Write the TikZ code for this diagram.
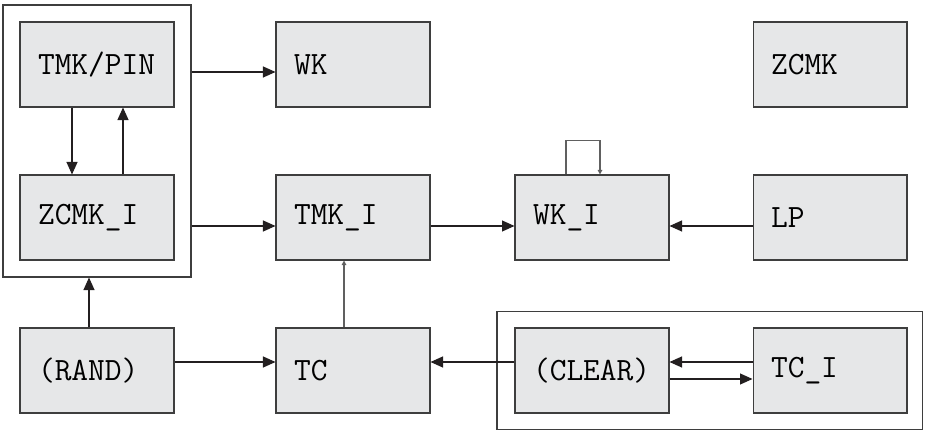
\documentclass[tikz,border=0pt]{standalone}
\usepackage{fontspec}
\usepackage{tikz}
\usetikzlibrary{arrows.meta, fit, positioning}

\definecolor{boxfill}{RGB}{230,231,232}
\definecolor{boxline}{RGB}{62,62,62}
\definecolor{arrline}{RGB}{35,31,32}

\begin{document}
\begin{tikzpicture}[x=0.02cm, y=-0.02cm,
    blk/.style={draw=boxline, fill=boxfill, line width=0.6pt, minimum height=1.7cm,
        text width=2.36cm, inner xsep=0.36cm, align=left,
        font=\fontsize{18.5}{22}\selectfont\ttfamily},
    grp/.style={draw=boxline, line width=0.6pt, inner sep=0.33cm},
    arr/.style={-{Triangle[length=0.25cm, width=0.22cm]}, line width=0.6pt, arrline},
    smallarr/.style={-{Triangle[length=0.09cm, width=0.09cm]}, line width=0.7pt, gray!75!black}]
    \useasboundingbox (0,0) rectangle (925,431);

    % Blocks
    \node[blk] (tmkpin) at (97,64.5) {TMK/PIN};
    \node[blk] (wk) at (353,64.5) {WK};
    \node[blk] (zcmk) at (830,64.5) {ZCMK};
    \node[blk] (zcmki) at (97,217.5) {ZCMK\_I};
    \node[blk] (tmki) at (353,217.5) {TMK\_I};
    \node[blk] (wki) at (592,217.5) {WK\_I};
    \node[blk] (lp) at (830,217.5) {LP};
    \node[blk] (rand) at (97,370.5) {(RAND)};
    \node[blk] (tc) at (353,370.5) {TC};
    \node[blk] (clear) at (592,370.5) {(CLEAR)};
    \node[blk] (tci) at (830,370.5) {TC\_I};

    % Groups
    \node[grp, fit=(tmkpin)(zcmki)] (grpA) {};
    \node[grp, inner sep=0.32cm, xshift=-0.03cm, fit=(clear)(tci)] (grpB) {};

    % Top rows
    \draw[arr] ([yshift=-0.15cm]grpA.east |- wk.west) -- ([yshift=-0.15cm]wk.west);
    \draw[arr] ([xshift=-0.5cm]tmkpin.south) -- ([xshift=-0.5cm]zcmki.north);
    \draw[arr] ([xshift=0.52cm]zcmki.north) -- ([xshift=0.52cm]tmkpin.south);
    \draw[arr] ([yshift=-0.17cm]grpA.east |- tmki.west) -- ([yshift=-0.17cm]tmki.west);
    \draw[arr] ([yshift=-0.17cm]tmki.east) -- ([yshift=-0.17cm]wki.west);
    \draw[arr] ([yshift=-0.17cm]lp.west) -- ([yshift=-0.17cm]wki.east);
    \draw[smallarr] ([xshift=-0.52cm]wki.north) -- ++(0,-34) -| ([xshift=0.16cm]wki.north);

    % Bottom row
    \draw[arr] ([xshift=-0.16cm]rand.north) -- ([xshift=-0.16cm]rand.north |- grpA.south);
    \draw[arr] ([yshift=0.17cm]rand.east) -- ([yshift=0.17cm]tc.west);
    \draw[smallarr] ([xshift=-0.18cm]tc.north) -- ([xshift=-0.18cm]tmki.south);
    \draw[arr] ([yshift=0.17cm]clear.west) -- ([yshift=0.17cm]tc.east);
    \draw[arr] ([yshift=0.17cm]tci.west) -- ([yshift=0.17cm]clear.east);
    \draw[arr] ([yshift=-0.17cm]clear.east) -- ([yshift=-0.17cm]tci.west);
\end{tikzpicture}
\end{document}
